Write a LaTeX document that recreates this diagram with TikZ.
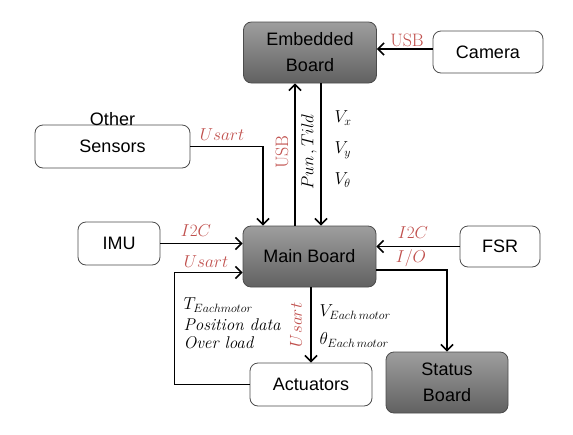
\documentclass[tikz,border=0pt]{standalone}
\usepackage{fontspec}
\newfontfamily\boxfont{Liberation Sans}
\usepackage{tikz}
\usetikzlibrary{arrows.meta}
\definecolor{busred}{RGB}{192,80,77}

\begin{document}
\begin{tikzpicture}[x=1pt, y=-1pt,
                module/.style={draw=black!70, thick, rounded corners=8pt,
                        align=center, inner sep=0pt,
                        font=\boxfont\fontsize{18}{26}\selectfont},
                board/.style={module, minimum width=133pt, minimum height=61pt,
                        top color=black!38, bottom color=black!62},
                device/.style={module, fill=white},
                arrow/.style={-{Straight Barb[length=6pt,width=12pt]}, line width=1.6pt},
                bus/.style={text=busred, font=\fontsize{18}{20}\selectfont},
                data/.style={font=\fontsize{17}{20}\selectfont},
            ]
            \useasboundingbox (0,0) rectangle (573,434);

            \node[board] (embedded) at (310,52.5) {Embedded\\Board};
            \node[device, minimum width=110pt, minimum height=42pt] (camera) at (488,52) {Camera};
            \node[device, minimum width=155pt, minimum height=43pt] (sensors) at (112.5,146.5) {Sensors};
            \node[anchor=base, inner sep=0pt, yshift=-1pt,
                font=\boxfont\fontsize{18}{26}\selectfont] (other) at (sensors.north) {Other};
            \node[board] (main) at (309.5,256.5) {Main Board};
            \node[device, minimum width=82pt, minimum height=43pt] (imu) at (119,243.5) {IMU};
            \node[device, minimum width=80pt, minimum height=41pt] (fsr) at (500,246.5) {FSR};
            \node[device, minimum width=122pt, minimum height=43pt] (actuators) at (311,384.5) {Actuators};
            \node[board, minimum width=122pt] (status) at (447,382.5) {Status\\Board};

            % links between the boards
            \draw[arrow] ([yshift=3pt]camera.west) -- ([yshift=3pt]camera.west -| embedded.east);
            \draw[arrow] ([xshift=-14.5pt]main.north) -- ([xshift=-14.5pt]main.north |- embedded.south);
            \draw[arrow] ([xshift=11pt]embedded.south) -- ([xshift=11pt]embedded.south |- main.north);
            \draw[arrow] (sensors.east) -| ([xshift=-46.5pt]main.north);
            \draw[arrow] (imu.east) -- (imu.east -| main.west);
            \draw[arrow] (fsr.west) -- (fsr.west -| main.east);
            \draw[arrow] ([yshift=-13.5pt]main.east) -| (status.north);
            \draw[arrow] (main.south -| actuators.north) -- (actuators.north);
            \draw[arrow] (actuators.west) -- ++(-75,0) |- ([yshift=-16pt]main.west);

            % bus labels
            \node[bus] (usb_cam) at (407,40) {USB};
            \node[bus, rotate=90] (usb_up) at (282,152) {USB};
            \node[bus] (usart_sensors) at (222,135) {$Usart$};
            \node[bus] (i2c_imu) at (196,231) {$I2C$};
            \node[bus] (usart_act) at (206,262) {$Usart$};
            \node[bus] (i2c_fsr) at (413,233) {$I2C$};
            \node[bus] (io_status) at (411,258) {$I/O$};
            \node[bus, rotate=90] (usart_down) at (296,325) {$Usart$};

            % data labels
            \node[data, rotate=90] (pan_tilt) at (309,152) {$Pun\,,Tild$};
            \node[data, anchor=west] (vx) at (331,118) {$V_x$};
            \node[data, anchor=west] (vy) at (331,150) {$V_y$};
            \node[data, anchor=west] (vtheta) at (331,180) {$V_\theta$};
            \node[data, anchor=west] (v_motor) at (316,312) {$V_{Each\,motor}$};
            \node[data, anchor=west] (theta_motor) at (316,340) {$\theta_{Each\,motor}$};
            \node[data, anchor=west] (t_motor) at (180,305) {$T_{Eachmotor}$};
            \node[data, anchor=west] (position) at (180,325) {\textit{Position data}};
            \node[data, anchor=west] (overload) at (180,343) {\textit{Over load}};
        \end{tikzpicture}
\end{document}
